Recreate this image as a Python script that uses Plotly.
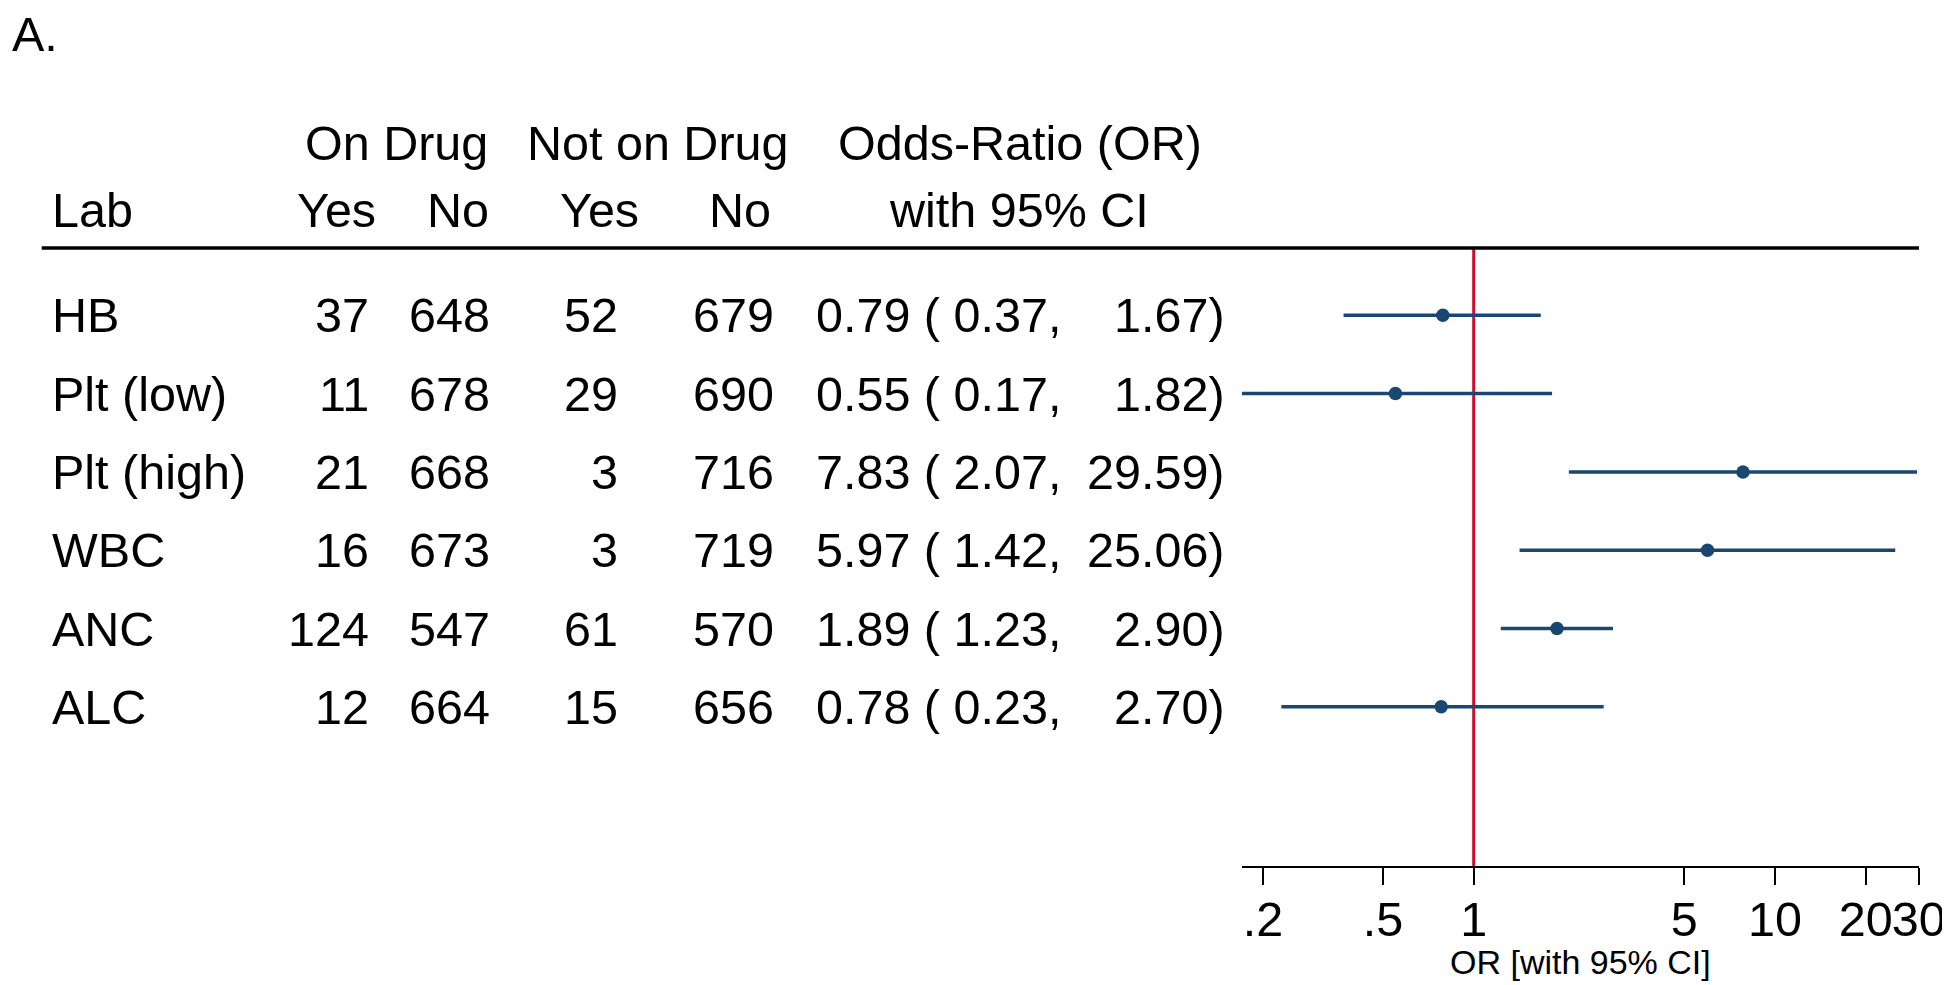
import math
import plotly.graph_objects as go

# ---------------- data ----------------
labs = ["HB", "Plt (low)", "Plt (high)", "WBC", "ANC", "ALC"]
on_yes = [37, 11, 21, 16, 124, 12]
on_no = [648, 678, 668, 673, 547, 664]
off_yes = [52, 29, 3, 3, 61, 15]
off_no = [679, 690, 716, 719, 570, 656]
odds = [0.79, 0.55, 7.83, 5.97, 1.89, 0.78]
ci_lo = [0.37, 0.17, 2.07, 1.42, 1.23, 0.23]
ci_hi = [1.67, 1.82, 29.59, 25.06, 2.90, 2.70]
tick_vals = [0.2, 0.5, 1, 5, 10, 20, 30]
tick_text = [".2", ".5", "1", "5", "10", "20", "30"]
header_top = ["On Drug", "Not on Drug", "Odds-Ratio (OR)"]
header_bot = ["Lab", "Yes", "No", "Yes", "No", "with 95% CI"]

# ---------------- layout constants ----------------
PAGE_W, PAGE_H = 1950, 985
OFF = 8                        # default body margin of the html page
W, H = PAGE_W - OFF, PAGE_H - OFF
ROW0_PX, ROW_PX = 315.3, 78.3  # page pixel of first row, row spacing
AXIS_PX = 866
X_LEFT_PX, X_RIGHT_PX = 1241.8, 1918.8
X_MIN, X_MAX = 0.17, 30
FONT = "Liberation Sans, Arial, sans-serif"
FS = 48.5
NAVY = "#1a476f"
RED = "#c8102e"
RA = 4.5   # small correction for right-anchored text boxes
LA = -2.5  # small correction for left-anchored text boxes


def py2y(py):
    """page pixel (vertical) -> row units on the y axis"""
    return (py - ROW0_PX) / ROW_PX


def px2p(px):
    """page pixel (horizontal) -> paper x"""
    return (px - OFF) / W


def py2p(py):
    """page pixel (vertical) -> paper y"""
    return (PAGE_H - py) / H


y_bottom = py2y(AXIS_PX)
y_top = py2y(OFF)
rows = list(range(len(labs)))
header_y = py2y(248)

fig = go.Figure()

# reference line at OR = 1
fig.add_trace(go.Scatter(x=[1, 1], y=[header_y, y_bottom], mode="lines",
                         line=dict(color=RED, width=3), hoverinfo="skip",
                         showlegend=False))

# CI lines
cx, cy = [], []
for i in rows:
    cx += [ci_lo[i], ci_hi[i], None]
    cy += [i, i, None]
fig.add_trace(go.Scatter(x=cx, y=cy, mode="lines",
                         line=dict(color=NAVY, width=3.5), showlegend=False,
                         hoverinfo="skip"))
# point estimates
fig.add_trace(go.Scatter(x=odds, y=rows, mode="markers",
                         marker=dict(color=NAVY, size=13.5, line=dict(width=0)),
                         showlegend=False))

anns = []


def txt(text, px, y, anchor, size=FS, yref="y", **kw):
    if anchor == "right":
        px += RA
    elif anchor == "left":
        px += LA
    d = dict(text=text, x=px2p(px), xref="paper", y=y, yref=yref,
             xanchor=anchor, yanchor="middle", showarrow=False,
             font=dict(family=FONT, size=size, color="black"))
    d.update(kw)
    anns.append(d)


for i in rows:
    txt(labs[i], 52, i, "left")
    txt(str(on_yes[i]), 366, i, "right")
    txt(str(on_no[i]), 487, i, "right")
    txt(str(off_yes[i]), 615, i, "right")
    txt(str(off_no[i]), 771, i, "right")
    txt(f"{odds[i]:.2f} ( {ci_lo[i]:.2f},", 1058, i, "right")
    txt(f"{ci_hi[i]:.2f})", 1222, i, "right")

# headers
yb = py2y(209.5)
yt = py2y(143)
txt(header_bot[0], 52, yb, "left")
txt(header_bot[1], 373, yb, "right")
txt(header_bot[2], 486, yb, "right")
txt(header_bot[3], 636, yb, "right")
txt(header_bot[4], 768, yb, "right")
txt(header_bot[5], 1019, yb, "center")
txt(header_top[0], 396, yt, "center")
txt(header_top[1], 657.5, yt, "center")
txt(header_top[2], 1020, yt, "center")

# panel letter
txt("A.", 12, py2y(34), "left")

# axis title
txt("OR [with 95% CI]", 1580, py2p(962), "center", size=34, yref="paper")

fig.update_layout(
    width=W, height=H,
    margin=dict(l=0, r=0, t=0, b=0),
    paper_bgcolor="white", plot_bgcolor="white",
    annotations=anns,
    shapes=[dict(type="line", xref="paper", yref="y",
                 x0=px2p(41.7), x1=px2p(1919), y0=header_y, y1=header_y,
                 line=dict(color="black", width=3.3))],
    xaxis=dict(type="log", domain=[px2p(X_LEFT_PX), px2p(X_RIGHT_PX)],
               range=[math.log10(X_MIN), math.log10(X_MAX)],
               tickvals=tick_vals, ticktext=tick_text, tickangle=0,
               ticks="outside", ticklen=17, tickwidth=2, tickcolor="black",
               showline=True, linewidth=2, linecolor="black",
               showgrid=False, zeroline=False, ticklabelstandoff=-7,
               tickfont=dict(family=FONT, size=FS, color="black"),
               automargin=False, anchor="y", fixedrange=True),
    yaxis=dict(domain=[py2p(AXIS_PX), 1], range=[y_bottom, y_top],
               visible=False, showgrid=False, zeroline=False,
               automargin=False, fixedrange=True),
    showlegend=False,
)

fig.write_html("out.html")
